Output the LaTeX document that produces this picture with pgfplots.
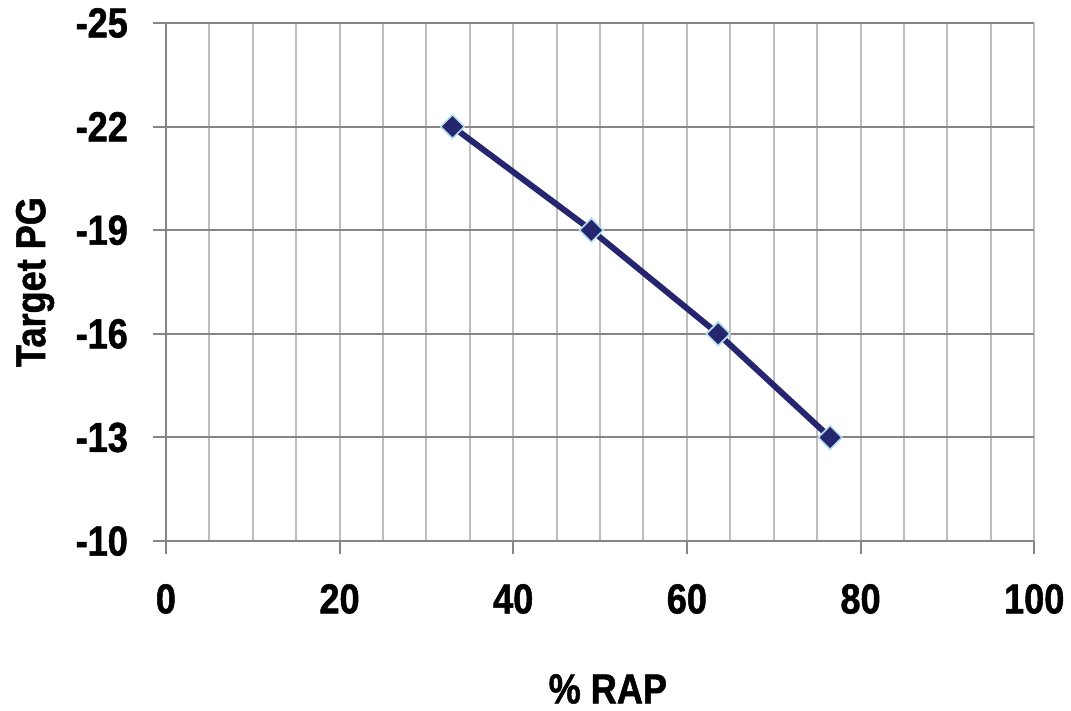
\documentclass[border=0pt]{standalone}
\usepackage{fontspec}
\setmainfont{Liberation Sans}[FakeStretch=0.86, BoldFeatures={FakeBold=1.2}]
\usepackage{pgfplots}
\pgfplotsset{compat=1.18}

\definecolor{seriesnavy}{RGB}{38,38,112}
\definecolor{markedge}{RGB}{178,222,232}
\definecolor{axisgray}{RGB}{134,134,134}
\definecolor{gridlight}{RGB}{190,190,190}

\begin{document}
\begin{tikzpicture}
\begin{axis}[
  scale only axis,
  width=434.5pt, height=259.25pt,
  xmin=0, xmax=100,
  ymin=-25, ymax=-10,
  y dir=reverse,
  axis x line*=bottom,
  axis y line*=left,
  axis line style={draw=axisgray, line width=1pt},
  xtick={0,20,...,100},
  minor xtick={5,10,...,95},
  ytick={-25,-22,-19,-16,-13,-10},
  yticklabels={-25,-22,-19,-16,-13,-10},
  xticklabels={0,20,40,60,80,100},
  tick align=outside,
  major tick length=6.5pt,
  minor tick length=0pt,
  tick style={draw=axisgray, line width=1pt},
  xmajorgrids, xminorgrids, ymajorgrids,
  x grid style={draw=gridlight, line width=1pt},
  minor x grid style={draw=gridlight, line width=1pt},
  y grid style={draw=axisgray, line width=1pt},
  ticklabel style={font=\fontsize{21}{24}\selectfont\bfseries},
  xticklabel style={yshift=-11.5pt},
  yticklabel style={xshift=-9pt},
  xlabel={\% RAP},
  ylabel={Target PG},
  label style={font=\fontsize{21}{24}\selectfont\bfseries},
  xlabel style={at={(axis description cs:0.509,-0.2854)}, anchor=center},
  ylabel style={at={(axis description cs:-0.1507,0.5)}, anchor=center},
  clip=false,
]
\addplot[
  seriesnavy, line width=3pt,
  mark=square*, mark size=4.2pt,
  mark options={rotate=45, fill=seriesnavy, draw=markedge, line width=0.8pt},
] coordinates {
  (33,-22) (49,-19) (63.6,-16) (76.5,-13)
};
\coordinate (bl) at (axis description cs:0,0);
\coordinate (tr) at (axis description cs:1,1);
\end{axis}
\path[use as bounding box] ([shift={(-83pt,-83pt)}]bl) rectangle ([shift={(18pt,11.5pt)}]tr);
\end{tikzpicture}
\end{document}
